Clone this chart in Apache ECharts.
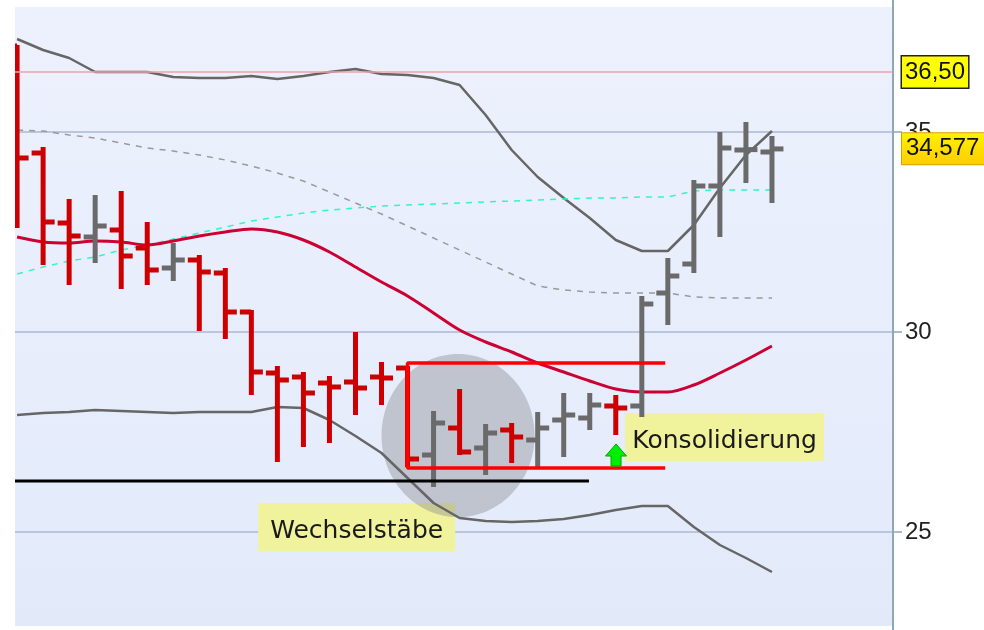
<!DOCTYPE html>
<html>
<head>
<meta charset="utf-8">
<script src="https://cdn.jsdelivr.net/npm/echarts@6/dist/echarts.min.js"></script>
<style>
html, body { margin: 0; padding: 0; background: #fff; }
#chart { width: 984px; height: 630px; }
</style>
</head>
<body>
<div id="chart"></div>
<script>
// one entry per bar (index 0..29)
var opens  = [37.15, 34.475, 32.725, 32.375, 32.55, 32.1, 31.6, 31.8, 31.475, 30.5, 28.975, 28.875, 28.725, 28.75, 28.875, 29.1, 26.925, 27.6, 27.1, 27.55, 27.3, 27.8, 27.85, 28.15, 28.15, 30.975, 31.7, 33.65, 34.55, 34.5];
var highs  = [37.175, 34.625, 33.325, 33.425, 33.525, 32.75, 32.225, 31.925, 31.6, 30.55, 29.15, 29.0, 28.9, 30.0, 29.25, 29.15, 28.025, 28.575, 27.7, 27.725, 28.0, 28.475, 28.475, 28.425, 30.9, 31.85, 33.8, 35.0, 35.25, 34.9];
var lows   = [32.6, 31.675, 31.175, 31.725, 31.075, 31.175, 31.275, 30.025, 29.825, 28.425, 26.75, 27.125, 27.225, 27.925, 28.175, 26.625, 26.125, 26.925, 26.425, 26.725, 26.625, 26.875, 27.55, 27.425, 27.875, 30.175, 31.475, 32.375, 33.725, 33.225];
var closes = [34.35, 32.75, 32.4, 32.65, 31.9, 31.55, 31.8, 31.5, 30.5, 29.0, 28.8, 28.475, 28.625, 28.6, 28.85, 26.825, 27.725, 27.0, 27.475, 27.375, 27.6, 27.925, 28.175, 28.1, 30.7, 31.4, 33.65, 34.6, 34.56, 34.577];

var upperBand = [37.325, 37.05, 36.85, 36.5, 36.5, 36.5, 36.375, 36.35, 36.35, 36.4, 36.325, 36.4, 36.5, 36.575, 36.45, 36.425, 36.35, 36.175, 35.425, 34.55, 33.875, 33.35, 32.85, 32.3, 32.025, 32.025, 32.675, 33.6, 34.425, 35.025];
var lowerBand = [27.925, 27.975, 28.0, 28.05, 28.025, 28.0, 27.975, 28.0, 28.0, 28.0, 28.125, 28.1, 27.8, 27.4, 26.975, 26.35, 25.725, 25.35, 25.275, 25.25, 25.275, 25.325, 25.425, 25.55, 25.65, 25.65, 25.125, 24.675, 24.35, 24.0];
var midAvg    = [32.375, 32.25, 32.225, 32.275, 32.25, 32.175, 32.275, 32.4, 32.5, 32.575, 32.5, 32.3, 32.0, 31.625, 31.25, 30.9, 30.475, 30.05, 29.75, 29.5, 29.225, 29.0, 28.775, 28.575, 28.5, 28.5, 28.675, 28.975, 29.3, 29.65];
var slowAvg   = [35.05, 35.025, 34.925, 34.85, 34.725, 34.6, 34.525, 34.425, 34.3, 34.15, 33.975, 33.775, 33.5, 33.225, 32.95, 32.65, 32.35, 32.05, 31.75, 31.45, 31.15, 31.05, 31.0, 30.975, 30.975, 30.975, 30.875, 30.85, 30.85, 30.85];
var fastAvg   = [31.45, 31.625, 31.775, 31.875, 32.05, 32.175, 32.325, 32.475, 32.625, 32.775, 32.875, 32.975, 33.05, 33.1, 33.15, 33.175, 33.2, 33.225, 33.25, 33.275, 33.3, 33.325, 33.35, 33.35, 33.375, 33.375, 33.525, 33.55, 33.55, 33.55];

var resistance = 36.5;
var lastPrice = 34.577;

// annotations, in chart coordinates (bar index, price)
var supportLine = [[-0.08, 26.275], [21.97, 26.275]];
var rangeBox = [[24.9, 29.225], [15, 29.225], [15, 26.6], [24.9, 26.6]];
var marker = [[16.94, 27.41, 2.94, 2.04]];
var noteTexts = ['Wechselstäbe', 'Konsolidierung'];
var noteBoxes = [[9.26, 25.725, 16.83, 24.525], [23.36, 27.975, 31.0, 26.775]];
var arrowAt = [[23.01, 26.6]];

function pts(arr) {
  return arr.map(function (v, i) { return [i, v]; });
}

var bars = opens.map(function (o, i) { return [i, o, highs[i], lows[i], closes[i]]; });

var chart = echarts.init(document.getElementById('chart'));

chart.setOption({
  animation: false,
  backgroundColor: '#ffffff',
  graphic: [{
    type: 'rect',
    z: -10,
    silent: true,
    shape: { x: 15, y: 7, width: 878, height: 619 },
    style: {
      fill: new echarts.graphic.LinearGradient(0, 0, 0, 1, [
        { offset: 0, color: '#edf1fd' },
        { offset: 1, color: '#e2eafa' }
      ])
    }
  }],
  // the 20 and 40 ticks sit just outside the canvas
  grid: { left: 15, right: 91, top: -68, bottom: -102, outerBoundsMode: 'none', containLabel: false },
  xAxis: {
    type: 'value',
    min: -0.08,
    max: 33.65,
    show: false
  },
  yAxis: {
    type: 'value',
    position: 'right',
    min: 20,
    max: 40,
    interval: 5,
    axisLine: { show: true, onZero: false, lineStyle: { color: '#8ea6ba', width: 2 } },
    axisTick: { show: true, length: 9, lineStyle: { color: '#8ea6ba', width: 1.5 } },
    axisLabel: { margin: 12, fontSize: 24, color: '#222', fontFamily: 'Liberation Sans' },
    splitLine: { show: true, lineStyle: { color: '#b9c6de', width: 2 } }
  },
  series: [
    {
      type: 'custom',
      name: 'notes',
      z: 1,
      silent: true,
      data: noteBoxes,
      renderItem: function (params, api) {
        var a = api.coord([api.value(0), api.value(1)]);
        var b = api.coord([api.value(2), api.value(3)]);
        return {
          type: 'group',
          children: [{
            type: 'rect',
            shape: { x: a[0], y: a[1], width: b[0] - a[0], height: b[1] - a[1] },
            style: { fill: '#f0f29c' }
          }, {
            type: 'text',
            style: {
              text: noteTexts[params.dataIndex],
              x: (a[0] + b[0]) / 2,
              y: (a[1] + b[1]) / 2 + 4,
              align: 'center',
              verticalAlign: 'middle',
              fontSize: 25,
              fontFamily: 'DejaVu Sans',
              fill: '#1a1a1a'
            }
          }]
        };
      }
    },
    {
      type: 'custom',
      name: 'marker',
      z: 2,
      silent: true,
      data: marker,
      renderItem: function (params, api) {
        var cx = api.value(0), cy = api.value(1), rx = api.value(2), ry = api.value(3);
        var a = api.coord([cx - rx, cy + ry]);
        var b = api.coord([cx + rx, cy - ry]);
        return {
          type: 'ellipse',
          shape: { cx: (a[0] + b[0]) / 2, cy: (a[1] + b[1]) / 2, rx: (b[0] - a[0]) / 2, ry: (b[1] - a[1]) / 2 },
          style: { fill: 'rgba(140,140,145,0.42)' }
        };
      }
    },
    {
      type: 'line', name: 'upper', z: 3, data: pts(upperBand), showSymbol: false, silent: true,
      lineStyle: { color: '#666666', width: 2.5 },
      markLine: {
        silent: true,
        symbol: 'none',
        data: [{
          yAxis: resistance,
          lineStyle: { color: '#f2a0a8', width: 1.5, type: 'solid' },
          label: {
            show: true, position: 'end', distance: 9,
            formatter: '36,50',
            fontSize: 24, fontFamily: 'Liberation Sans', color: '#111',
            backgroundColor: '#ffff00', borderColor: '#222', borderWidth: 1.5,
            padding: [4, 3, 3, 3]
          }
        }, {
          yAxis: lastPrice,
          lineStyle: { color: 'rgba(0,0,0,0)', width: 1 },
          label: {
            show: true, position: 'end', distance: 9,
            formatter: '34,577',
            fontSize: 24, fontFamily: 'Liberation Sans', color: '#111',
            backgroundColor: new echarts.graphic.LinearGradient(0, 0, 0, 1, [
              { offset: 0, color: '#fff200' },
              { offset: 1, color: '#ffcc00' }
            ]),
            borderColor: '#d9a000', borderWidth: 1,
            padding: [4, 8, 3, 4]
          }
        }]
      }
    },
    {
      type: 'line', name: 'lower', z: 3, data: pts(lowerBand), showSymbol: false, silent: true,
      lineStyle: { color: '#666666', width: 2.5 }
    },
    {
      type: 'line', name: 'slow', z: 3, data: pts(slowAvg), showSymbol: false, silent: true,
      lineStyle: { color: '#9a9a9a', width: 1.5, type: [6, 6] }
    },
    {
      type: 'line', name: 'fast', z: 3, data: pts(fastAvg), showSymbol: false, silent: true,
      lineStyle: { color: '#33f5c5', width: 1.5, type: [6, 6] }
    },
    {
      type: 'line', name: 'mid', z: 3, data: pts(midAvg), showSymbol: false, silent: true, smooth: 0.3,
      lineStyle: { color: '#cc0033', width: 3 }
    },
    {
      type: 'custom',
      name: 'ohlc',
      z: 4,
      clip: true,
      silent: true,
      data: bars,
      encode: { x: 0, y: [1, 2, 3, 4] },
      renderItem: function (params, api) {
        var i = api.value(0);
        var o = api.coord([i, api.value(1)]);
        var h = api.coord([i, api.value(2)]);
        var l = api.coord([i, api.value(3)]);
        var c = api.coord([i, api.value(4)]);
        var x = o[0];
        var color = api.value(4) >= api.value(1) ? '#6a6a6a' : '#cc0000';
        return {
          type: 'group',
          children: [
            { type: 'rect', shape: { x: x - 2.5, y: h[1], width: 5, height: l[1] - h[1] }, style: { fill: color } },
            { type: 'rect', shape: { x: x - 11.5, y: o[1] - 2.5, width: 11.5, height: 5 }, style: { fill: color } },
            { type: 'rect', shape: { x: x, y: c[1] - 2.5, width: 11.5, height: 5 }, style: { fill: color } }
          ]
        };
      }
    },
    {
      type: 'line', name: 'support', z: 5, data: supportLine, showSymbol: false, silent: true,
      lineStyle: { color: '#000000', width: 3 }
    },
    {
      type: 'line', name: 'range', z: 5, data: rangeBox, showSymbol: false, silent: true,
      lineStyle: { color: '#ff0000', width: 3.5 }
    },
    {
      type: 'custom',
      name: 'arrow',
      z: 6,
      silent: true,
      data: arrowAt,
      renderItem: function (params, api) {
        var p = api.coord([api.value(0), api.value(1)]);
        var x = p[0], y = p[1];
        return {
          type: 'polygon',
          shape: { points: [[x, y - 24], [x + 10.5, y - 12], [x + 5, y - 12], [x + 5, y - 2], [x - 5, y - 2], [x - 5, y - 12], [x - 10.5, y - 12]] },
          style: { fill: '#00ee00', stroke: '#00a800', lineWidth: 1 }
        };
      }
    }
  ]
});
</script>
</body>
</html>
